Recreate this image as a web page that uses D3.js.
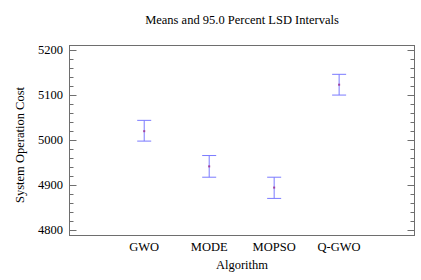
<!DOCTYPE html>
<html>
<head>
<meta charset="utf-8">
<script src="https://cdn.jsdelivr.net/npm/d3@7"></script>
<style>
  body { margin: 0; background: #fff; }
  text { font-family: "Liberation Serif", "Times New Roman", serif; fill: #000; }
</style>
</head>
<body>
<script>
// data
var algorithms = ["GWO", "MODE", "MOPSO", "Q-GWO"];
var means = [5019, 4941, 4894, 5122];
var lower = [4997, 4917, 4870, 5099];
var upper = [5043, 4965, 4917, 5145];
var yTicks = [4800, 4900, 5000, 5100, 5200];

var width = 421, height = 280;
var pLeft = 69.5, pRight = 414.5, pTop = 45.5, pBottom = 235.5;

var svg = d3.select("body").append("svg")
    .attr("width", width)
    .attr("height", height);

var x = d3.scaleLinear().domain([-0.15, 5.16]).range([pLeft, pRight]);
var y = d3.scaleLinear().domain([4800, 5200]).range([230, 49.5]);

// frame
svg.append("rect")
    .attr("x", pLeft).attr("y", pTop)
    .attr("width", pRight - pLeft).attr("height", pBottom - pTop)
    .attr("fill", "none").attr("stroke", "#6e6e6e").attr("stroke-width", 1);

// minor ticks every 20
var minor = d3.range(4800, 5201, 20);
svg.selectAll(".tl").data(minor).enter().append("line")
    .attr("x1", pLeft).attr("x2", function(d) { return pLeft + (d % 100 == 0 ? 7 : 4); })
    .attr("y1", function(d) { return Math.round(y(d)) + 0.5; })
    .attr("y2", function(d) { return Math.round(y(d)) + 0.5; })
    .attr("stroke", "#6e6e6e");
svg.selectAll(".tr").data(minor).enter().append("line")
    .attr("x1", pRight).attr("x2", function(d) { return pRight - (d % 100 == 0 ? 7 : 4); })
    .attr("y1", function(d) { return Math.round(y(d)) + 0.5; })
    .attr("y2", function(d) { return Math.round(y(d)) + 0.5; })
    .attr("stroke", "#6e6e6e");

svg.selectAll(".ylab").data(yTicks).enter().append("text")
    .attr("x", 63).attr("y", function(d) { return y(d) + 4; })
    .attr("text-anchor", "end").attr("font-size", 12.5)
    .text(function(d) { return d; });

// category labels
svg.selectAll(".xlab").data(algorithms).enter().append("text")
    .attr("x", function(d, i) { return x(i + 1); }).attr("y", 251)
    .attr("text-anchor", "middle").attr("font-size", 12.5)
    .text(function(d) { return d; });

// error bars
var bars = svg.selectAll(".bar").data(algorithms).enter().append("g");
bars.append("line")
    .attr("x1", function(d, i) { return x(i + 1); })
    .attr("x2", function(d, i) { return x(i + 1); })
    .attr("y1", function(d, i) { return y(upper[i]); })
    .attr("y2", function(d, i) { return y(lower[i]); })
    .attr("stroke", "#7a7aff");
bars.append("line")
    .attr("x1", function(d, i) { return x(i + 1) - 7; })
    .attr("x2", function(d, i) { return x(i + 1) + 7; })
    .attr("y1", function(d, i) { return y(upper[i]); })
    .attr("y2", function(d, i) { return y(upper[i]); })
    .attr("stroke", "#7a7aff");
bars.append("line")
    .attr("x1", function(d, i) { return x(i + 1) - 7; })
    .attr("x2", function(d, i) { return x(i + 1) + 7; })
    .attr("y1", function(d, i) { return y(lower[i]); })
    .attr("y2", function(d, i) { return y(lower[i]); })
    .attr("stroke", "#7a7aff");
bars.append("rect")
    .attr("x", function(d, i) { return x(i + 1) - 1; })
    .attr("y", function(d, i) { return y(means[i]) - 1; })
    .attr("width", 2).attr("height", 2)
    .attr("fill", "#a040a0");

// titles
svg.append("text")
    .attr("x", 242).attr("y", 24)
    .attr("text-anchor", "middle").attr("font-size", 12.5)
    .text("Means and 95.0 Percent LSD Intervals");
svg.append("text")
    .attr("x", 242).attr("y", 269)
    .attr("text-anchor", "middle").attr("font-size", 12.5)
    .text("Algorithm");
svg.append("text")
    .attr("transform", "translate(24,145) rotate(-90)")
    .attr("text-anchor", "middle").attr("font-size", 12.5)
    .text("System Operation Cost");
</script>
</body>
</html>
